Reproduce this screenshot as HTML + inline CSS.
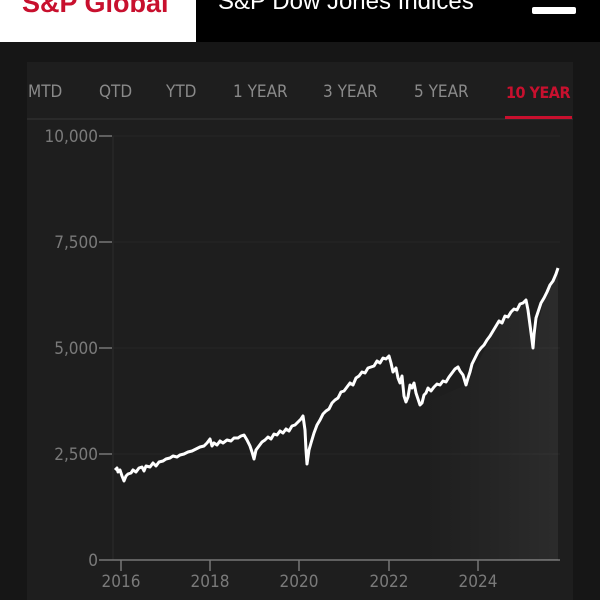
<!DOCTYPE html>
<html><head><meta charset="utf-8"><style>
body{margin:0;width:600px;height:600px;background:#161616;overflow:hidden;font-family:"DejaVu Sans Condensed","Liberation Sans",sans-serif;}
.hdr{position:absolute;left:0;top:0;width:600px;height:42px;background:#000;}
.logo{position:absolute;left:0;top:0;width:196px;height:42px;background:#fff;overflow:hidden;}
.logo span{position:absolute;left:22px;top:-12px;color:#c8102e;font:bold 27px "Liberation Sans",sans-serif;}
.title{position:absolute;left:218px;top:-12px;color:#fff;font:24px "Liberation Sans",sans-serif;}
.menu{position:absolute;left:532px;top:7px;width:44px;height:7px;background:#fff;border-radius:2px;}
.panel{position:absolute;left:27px;top:62px;width:546px;height:538px;background:#1e1e1e;}
.tab{position:absolute;top:82px;color:#8a8a8a;font-size:17px;}
</style></head><body>
<div class="hdr"><div class="logo"><span>S&amp;P Global</span></div><div class="title">S&amp;P Dow Jones Indices</div><div class="menu"></div></div>
<div class="panel"></div>
<div class="tab" style="left:28px">MTD</div>
<div class="tab" style="left:99px">QTD</div>
<div class="tab" style="left:166px">YTD</div>
<div class="tab" style="left:233px">1 YEAR</div>
<div class="tab" style="left:323px">3 YEAR</div>
<div class="tab" style="left:414px">5 YEAR</div>
<div class="tab" style="left:506px;color:#c8102e;font-weight:bold;font-size:16px;letter-spacing:-0.5px;top:83px">10 YEAR</div>
<svg width="600" height="600" style="position:absolute;left:0;top:0">
<defs><linearGradient id="g" x1="0" y1="0" x2="1" y2="0"><stop offset="0.7" stop-color="#fff" stop-opacity="0"/><stop offset="1" stop-color="#fff" stop-opacity="0.06"/></linearGradient></defs>
<line x1="27" y1="119" x2="573" y2="119" stroke="#2a2a2a" stroke-width="2"/>
<rect x="505" y="116" width="67" height="3" fill="#c8102e"/>
<line x1="113" y1="136" x2="113" y2="560" stroke="#2c2c2c"/>
<g stroke="#262626"><line x1="112" y1="136" x2="560" y2="136"/><line x1="112" y1="242" x2="560" y2="242"/><line x1="112" y1="348" x2="560" y2="348"/><line x1="112" y1="454" x2="560" y2="454"/></g>
<g stroke="#777" stroke-width="1.5"><line x1="99" y1="136" x2="112" y2="136"/><line x1="99" y1="242" x2="112" y2="242"/><line x1="99" y1="348" x2="112" y2="348"/><line x1="99" y1="454" x2="112" y2="454"/><line x1="99" y1="560" x2="560" y2="560"/>
<line x1="121" y1="560" x2="121" y2="571"/><line x1="210" y1="560" x2="210" y2="571"/><line x1="299" y1="560" x2="299" y2="571"/><line x1="389" y1="560" x2="389" y2="571"/><line x1="478" y1="560" x2="478" y2="571"/></g>
<g fill="#7a7a7a" font-size="17" font-family="DejaVu Sans Condensed,Liberation Sans,sans-serif" text-anchor="end"><text x="98" y="142">10,000</text><text x="98" y="248">7,500</text><text x="98" y="354">5,000</text><text x="98" y="460">2,500</text><text x="98" y="566">0</text></g>
<g fill="#7a7a7a" font-size="17" font-family="DejaVu Sans Condensed,Liberation Sans,sans-serif" text-anchor="middle"><text x="121" y="587">2016</text><text x="210" y="587">2018</text><text x="299" y="587">2020</text><text x="389" y="587">2022</text><text x="478" y="587">2024</text></g>
<polygon fill="url(#g)" points="115,560 115,470 300,420 389,356 420,405 466,385 500,321 526,300 533,348 544,298 558,268 558,560"/>
<polyline fill="none" stroke="#fff" stroke-width="3" stroke-linejoin="round" points="115,470 117,468 118,472 120,470 122,476 124,481 126,476 128,474 131,473 133,470 136,472 139,468 142,467 144,471 146,466 150,467 153,463 156,466 159,462 163,461 166,459 170,458 173,456 177,457 180,455 184,454 188,452 192,451 196,449 200,447 204,446 207,443 210,439 212,446 214,443 217,445 220,441 223,443 227,440 231,441 234,438 238,438 241,436 244,435 247,440 250,446 252,452 254,459 256,450 259,446 262,442 265,440 268,437 271,439 274,434 277,435 280,431 283,433 286,429 289,431 292,426 295,425 298,422 301,419 303,416 305,430 306,450 307,464 309,450 311,443 314,433 317,425 320,420 323,414 326,411 329,409 332,403 335,400 338,398 341,392 344,391 347,387 350,383 353,385 356,378 359,376 362,372 365,373 368,368 371,367 374,366 377,361 380,363 383,358 386,359 389,356 391,363 393,372 396,368 398,378 400,383 402,376 404,396 406,402 408,397 410,385 412,388 414,383 416,393 418,399 420,405 422,403 424,395 426,393 428,388 431,391 434,387 437,384 440,385 443,381 446,382 449,377 452,373 455,369 458,367 460,371 463,375 466,385 468,378 470,372 472,364 475,358 478,352 481,348 484,345 487,340 490,336 493,331 496,326 499,321 502,323 505,316 508,317 511,312 514,309 517,310 520,304 523,303 526,300 528,310 530,325 532,340 533,348 534,335 536,318 538,312 541,303 544,298 547,292 550,285 553,281 556,274 558,268"/>
</svg>
</body></html>
